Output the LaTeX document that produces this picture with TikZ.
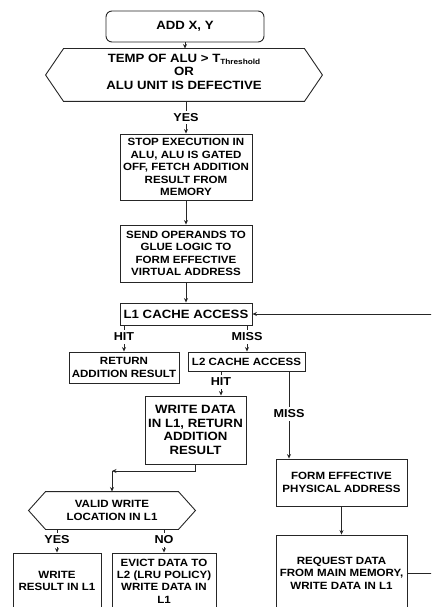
\documentclass[tikz,border=0pt]{standalone}
\usepackage{fontspec}
\setmainfont[FakeStretch=1.1]{Liberation Sans}
\usetikzlibrary{arrows.meta}
\newcommand{\boxfont}{\fontsize{10.5}{12.4}\selectfont\bfseries}
\newcommand{\bigboxfont}{\fontsize{12}{13.4}\selectfont\bfseries}
\tikzset{
    process/.style={draw=black!85, rectangle, align=center, inner sep=1pt, font=\boxfont},
    bigprocess/.style={process, font=\bigboxfont},
    terminal/.style={process, rounded corners=6pt, font=\bigboxfont},
    decision/.style={rectangle, align=center, inner sep=0pt, font=\boxfont},
    hexline/.style={draw=black!85},
    flow/.style={draw=black!85, -{Stealth[length=4.5pt,width=4pt]}},
    flownoarrow/.style={draw=black!85},
    answer/.style={fill=white, inner xsep=1pt, inner ysep=2.6pt, font=\fontsize{11.5}{12}\selectfont\bfseries},
}

\begin{document}
\begin{tikzpicture}[line width=0.9pt, x=1pt, y=-1pt]
		\useasboundingbox (0,0) rectangle (431,607);
		\clip (0,0) rectangle (431,607);
		% Start and the first test
		\node[terminal, minimum width=158pt, minimum height=31pt] (start) at (185,26.5) {ADD X, Y};
		\node[decision, minimum width=240pt, minimum height=52pt,
		      label={[align=center, font=\fontsize{12}{13.5}\selectfont\bfseries, yshift=3.5pt]center:{TEMP OF ALU > T\raisebox{-2.5pt}{\fontsize{7.5}{8}\selectfont Threshold}\\OR\\ALU UNIT IS DEFECTIVE}}] (cond) at (184,75) {};
		\draw[hexline] (cond.north west) -- (cond.north east) -- ([xshift=18pt]cond.east) -- (cond.south east) -- (cond.south west) -- ([xshift=-18pt]cond.west) -- cycle;
		% Steps down to the L1 cache
		\node[process, minimum width=132pt, minimum height=66pt] (stop) at (186,167) {STOP EXECUTION IN\\ALU, ALU IS GATED\\OFF, FETCH ADDITION\\RESULT FROM\\MEMORY};
		\node[process, minimum width=132pt, minimum height=57pt] (send) at (186,253.5) {SEND OPERANDS TO\\GLUE LOGIC TO\\FORM EFFECTIVE\\VIRTUAL ADDRESS};
		\node[bigprocess, minimum width=132pt, minimum height=22pt] (lone) at (186,314) {L1 CACHE ACCESS};
		% Hit and miss in L1
		\node[process, minimum width=110pt, minimum height=31pt] (ret) at (124,367.5) {RETURN\\ADDITION RESULT};
		\node[process, minimum width=117pt, minimum height=19pt] (ltwo) at (246.5,361.5) {L2 CACHE ACCESS};
		% Hit in L2
		\node[bigprocess, minimum width=101pt, minimum height=68pt] (wdata) at (195.5,430) {WRITE DATA\\IN L1, RETURN\\ADDITION\\RESULT};
		\node[decision, minimum width=132pt, minimum height=37pt] (valid) at (112,510.5) {VALID WRITE\\LOCATION IN L1};
		\draw[hexline] (valid.north west) -- (valid.north east) -- ([xshift=17pt]valid.east) -- (valid.south east) -- (valid.south west) -- ([xshift=-17pt]valid.west) -- cycle;
		\node[process, minimum width=88pt, minimum height=56pt] (wres) at (57,581) {WRITE\\RESULT IN L1};
		\node[process, minimum width=104pt, minimum height=56pt] (evict) at (164,581) {EVICT DATA TO\\L2 (LRU POLICY)\\WRITE DATA IN\\L1};
		% Miss in L2
		\node[process, minimum width=131pt, minimum height=47pt] (form) at (341.5,482.5) {FORM EFFECTIVE\\PHYSICAL ADDRESS};
		\node[process, minimum width=131pt, minimum height=76pt] (req) at (341.5,573) {REQUEST DATA\\FROM MAIN MEMORY,\\WRITE DATA IN L1};
		\coordinate (corner) at (112,471);
		% Connectors
		\draw[flow] (start.south) -- (start.south |- cond.north);
		\draw[flow] (cond.south -| stop.north) -- (stop.north);
		\draw[flow] (stop) -- (send);
		\draw[flow] (send) -- (lone);
		\draw[flow] (lone.south -| ret.north) -- (ret.north);
		\draw[flow] ([xshift=61pt]lone.south) -- ([xshift=61pt]lone.south |- ltwo.north);
		\draw[flow] ([xshift=-25.5pt]ltwo.south) -- ([xshift=-25.5pt]ltwo.south |- wdata.north);
		\draw[flow] ([xshift=42.5pt]ltwo.south) -- ([xshift=42.5pt]ltwo.south |- form.north);
		\draw[flow] (form) -- (req);
		\draw[flow] (wdata.south) |- (corner);
		\draw[flow] (corner) -- (valid.north);
		\draw[flow] (valid.south -| wres.north) -- (wres.north);
		\draw[flow] (valid.south -| evict.north) -- (evict.north);
		\draw[flow] (req.east) -- ++(30,0) |- (lone.east);
		% Labels
		\node[answer] (yesone) at (186,117.5) {YES};
		\node[answer] (hitone) at (124,337) {HIT};
		\node[answer] (missone) at (247,337) {MISS};
		\node[answer] (hittwo) at (221,382) {HIT};
		\node[answer] (misstwo) at (289,414) {MISS};
		\node[answer] (yestwo) at (57,540) {YES};
		\node[answer] (notwo) at (164,540) {NO};
	\end{tikzpicture}
\end{document}
